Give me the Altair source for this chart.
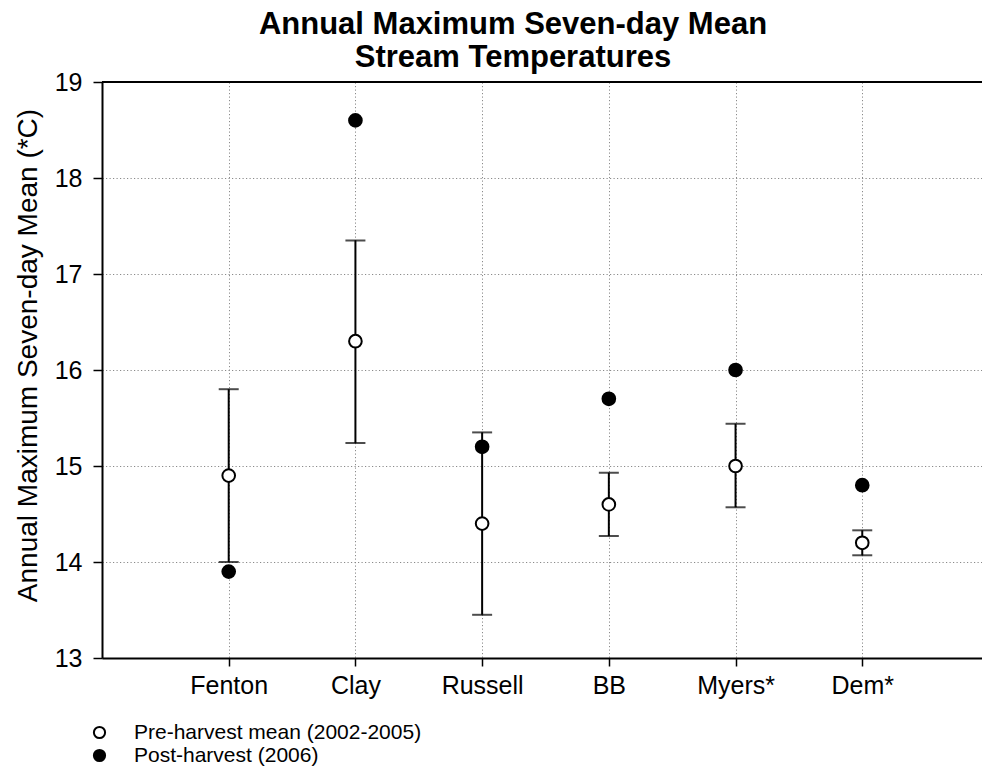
import altair as alt
import pandas as pd

sites = ["Fenton", "Clay", "Russell", "BB", "Myers*", "Dem*"]
site_pos = [1, 2, 3, 4, 5, 6]
pre_mean = [14.9, 16.3, 14.4, 14.6, 15.0, 14.2]
pre_low = [14.0, 15.24, 13.45, 14.27, 14.57, 14.07]
pre_high = [15.8, 17.35, 15.35, 14.93, 15.44, 14.33]
post_value = [13.9, 18.6, 15.2, 15.7, 16.0, 14.8]
series_names = ["Pre-harvest mean (2002-2005)", "Post-harvest (2006)"]
y_ticks = [13, 14, 15, 16, 17, 18, 19]

FONT = "Liberation Sans"

err_df = pd.DataFrame({"pos": site_pos, "site": sites, "lo": pre_low, "hi": pre_high})
pts_df = pd.concat([
    pd.DataFrame({"pos": site_pos, "site": sites, "value": pre_mean, "series": series_names[0]}),
    pd.DataFrame({"pos": site_pos, "site": sites, "value": post_value, "series": series_names[1]}),
], ignore_index=True)

label_expr = "[" + ",".join(f"'{s}'" for s in [""] + sites) + "][datum.value]"

x_scale = alt.Scale(domain=[0, 6.945], nice=False, zero=False)
y_scale = alt.Scale(domain=[13, 19], nice=False, zero=False)

x_axis = alt.Axis(values=site_pos, labelExpr=label_expr, title=None,
                  grid=True, gridColor="#8a8a8a", gridDash=[1.2, 2.3], gridWidth=1,
                  domainColor="black", domainWidth=2, tickColor="black", tickWidth=1.5,
                  tickSize=8, labelFontSize=25, labelFont=FONT, labelColor="black",
                  labelPadding=7)
y_axis = alt.Axis(values=y_ticks, title="Annual Maximum Seven-day Mean (*C)",
                  grid=True, gridColor="#8a8a8a", gridDash=[1.2, 2.3], gridWidth=1,
                  domainColor="black", domainWidth=2, tickColor="black", tickWidth=1.5,
                  tickSize=9, labelFontSize=25, labelFont=FONT, labelColor="black",
                  labelPadding=11, titleFontSize=28, titleFont=FONT, titleFontWeight="normal",
                  titleColor="black", titlePadding=12, titleY=273, format="d")

base_err = alt.Chart(err_df)

bars = base_err.mark_rule(color="black", strokeWidth=2).encode(
    x=alt.X("pos:Q", scale=x_scale, axis=x_axis),
    y=alt.Y("lo:Q", scale=y_scale, axis=y_axis),
    y2="hi:Q",
)
cap_lo = base_err.mark_tick(color="black", thickness=2, size=20, orient="horizontal").encode(
    x=alt.X("pos:Q", scale=x_scale), y=alt.Y("lo:Q", scale=y_scale)
)
cap_hi = base_err.mark_tick(color="black", thickness=2, size=20, orient="horizontal").encode(
    x=alt.X("pos:Q", scale=x_scale), y=alt.Y("hi:Q", scale=y_scale)
)

top_border = alt.Chart(pd.DataFrame({"top": [19]})).mark_rule(color="black", strokeWidth=2).encode(
    y=alt.Y("top:Q", scale=y_scale)
)

points = alt.Chart(pts_df).mark_point(shape="circle", filled=False, size=160,
                                      stroke="black", strokeWidth=2, opacity=1).encode(
    x=alt.X("pos:Q", scale=x_scale),
    y=alt.Y("value:Q", scale=y_scale),
    fill=alt.Fill("series:N", scale=alt.Scale(domain=series_names, range=["white", "black"]),
                  legend=alt.Legend(title=None, orient="none", legendX=-13, legendY=640,
                                    symbolType="circle", symbolSize=125, symbolStrokeColor="black",
                                    symbolStrokeWidth=2, symbolFillColor="white",
                                    labelFontSize=21, labelFont=FONT, labelColor="black",
                                    labelLimit=500, labelOffset=24, rowPadding=1, padding=0)),
)

chart = alt.layer(bars, cap_lo, cap_hi, top_border, points).properties(
    width=880, height=576,
    title=alt.TitleParams(["Annual Maximum Seven-day Mean", "Stream Temperatures"],
                          fontSize=31, fontWeight="bold", font=FONT, color="black",
                          anchor="middle", dx=-29, dy=14, offset=10, lineHeight=33),
    autosize=alt.AutoSizeParams(type="none"),
    padding={"left": 102, "top": 82, "right": 0, "bottom": 110},
).configure_view(stroke=None).configure(background="white")

chart.save("out.html", embed_options={"renderer": "svg", "actions": False})
